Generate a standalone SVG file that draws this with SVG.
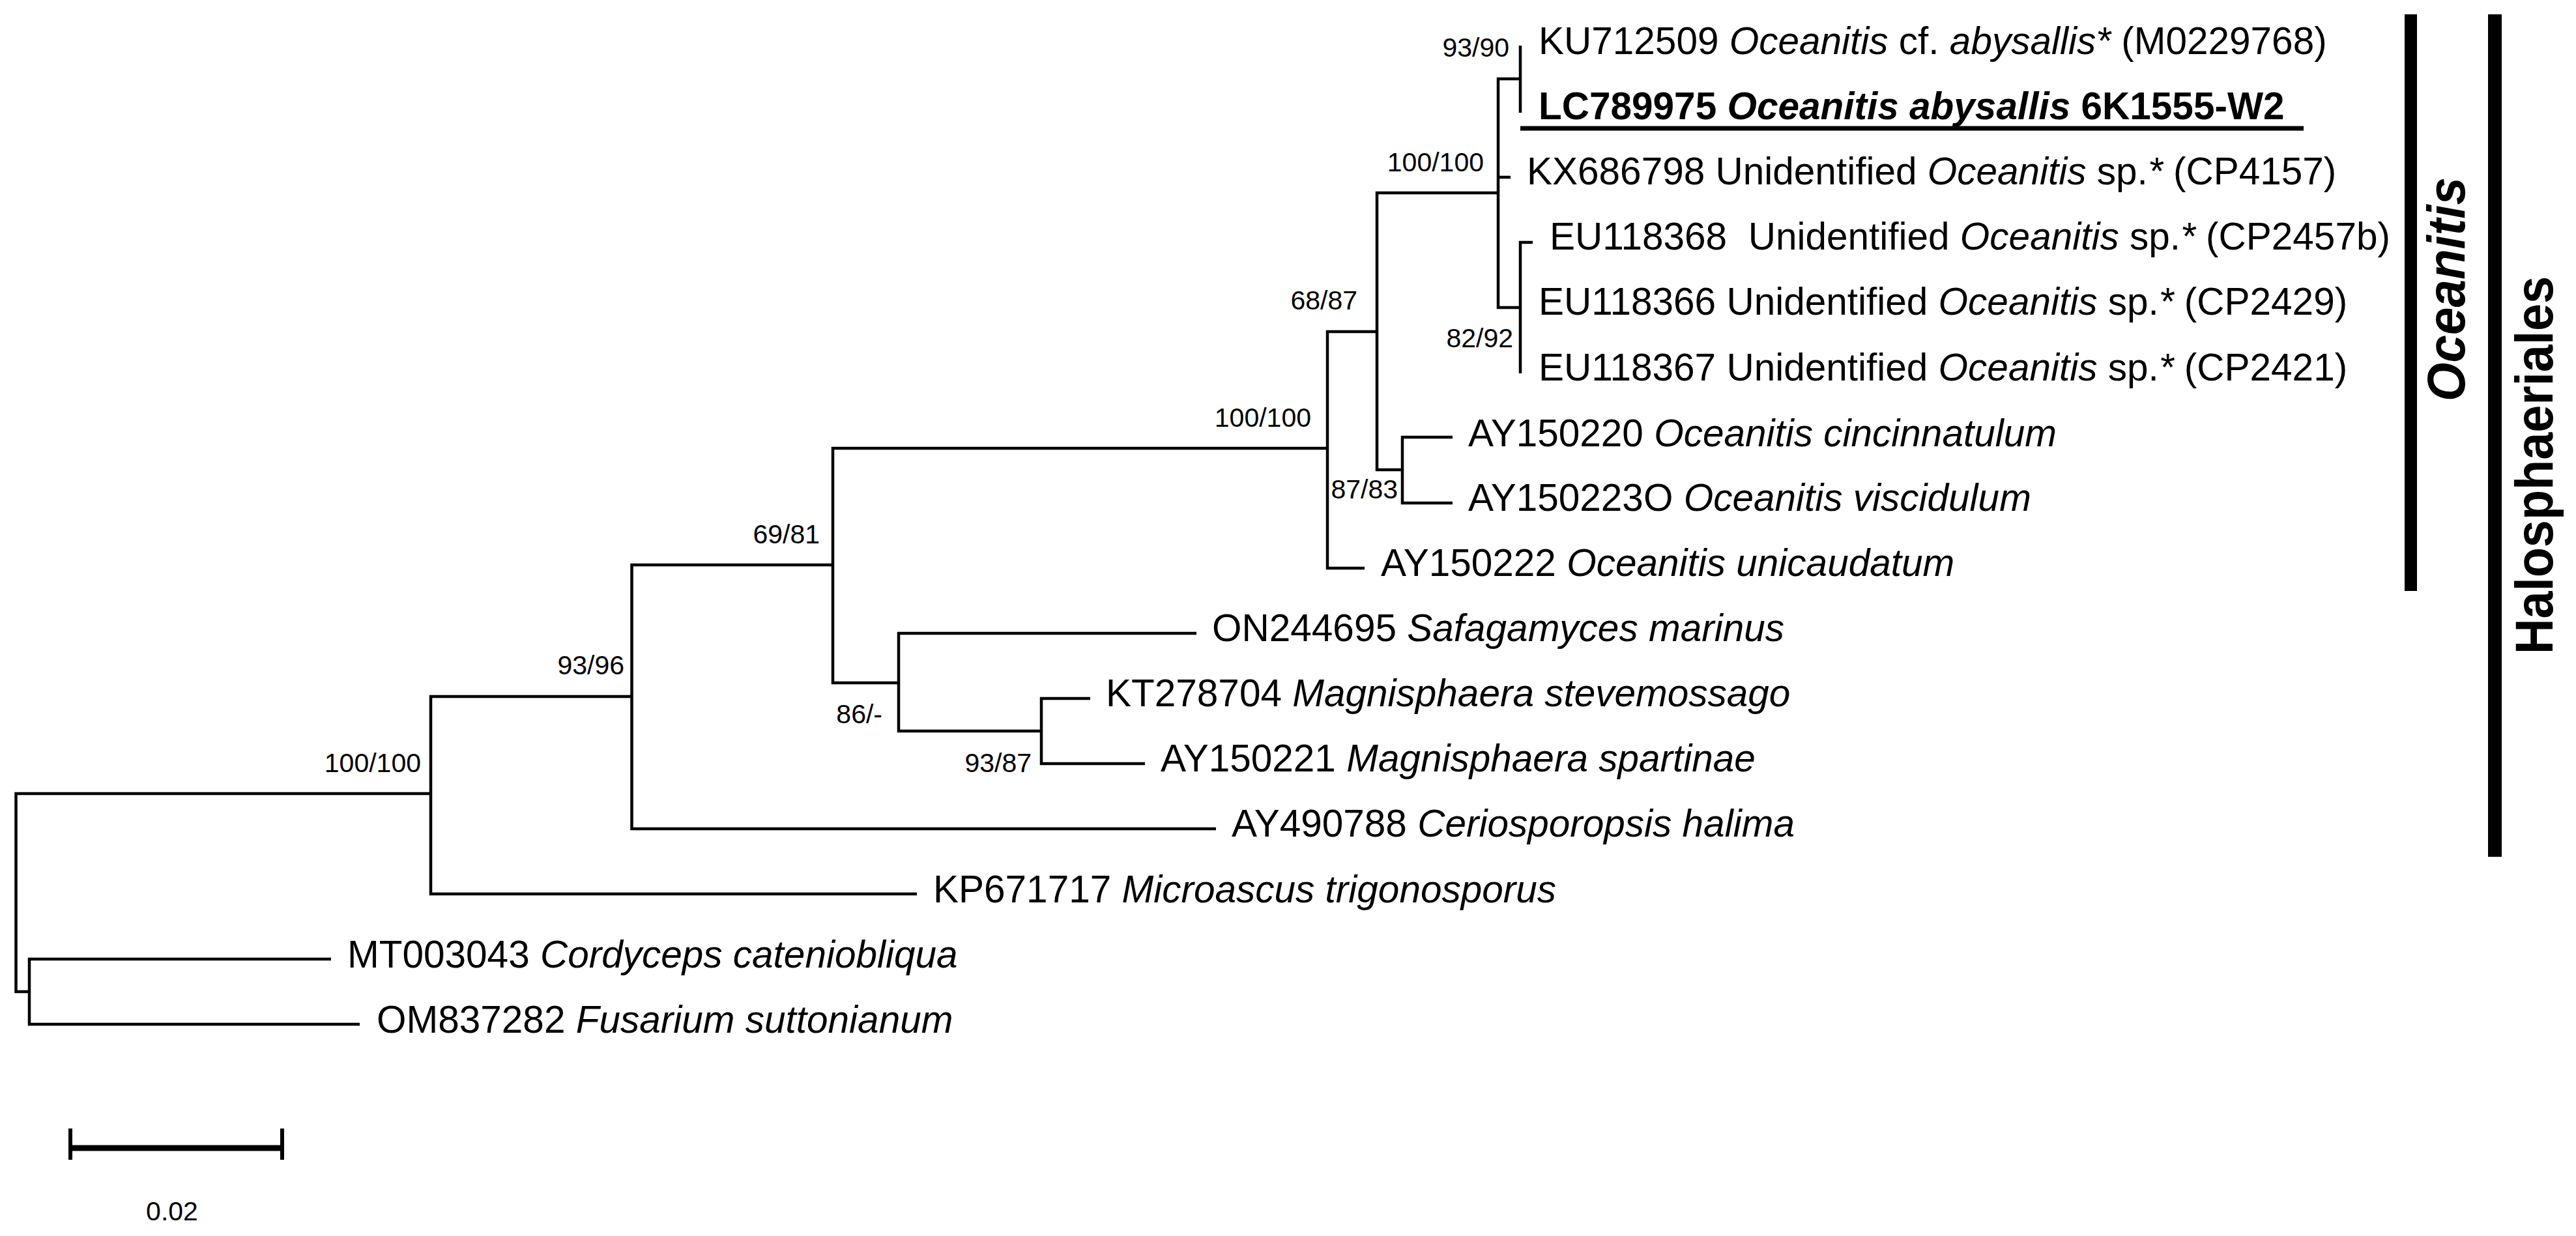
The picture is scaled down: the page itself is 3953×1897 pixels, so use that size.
<svg xmlns="http://www.w3.org/2000/svg" width="3953" height="1897" viewBox="0 0 3953 1897">
<style>
.br{fill:none;stroke:#000;stroke-width:4.5;stroke-linejoin:miter}
.tx{font-family:"Liberation Sans",Arial,Helvetica,sans-serif;font-size:58.5px;fill:#000}
.sp{font-family:"Liberation Sans",Arial,Helvetica,sans-serif;font-size:41px;fill:#000;text-anchor:end}
.it{font-style:italic}
.bd{font-weight:bold}
</style>
<rect width="3953" height="1897" fill="#fff"/>
<g id="connectors">
<path class="br" d="M661,1218 H24.5 V1522 H45"/>
<path class="br" d="M969.5,1069 H661 V1372 H1407"/>
<path class="br" d="M1278,867 H969.5 V1272 H1866"/>
<path class="br" d="M2037,688 H1278 V1048 H1379"/>
<path class="br" d="M2113,509 H2037 V872 H2094"/>
<path class="br" d="M2299,296 H2113 V721 H2152"/>
<path class="br" d="M2333,121 H2299 V472 H2333"/>
<path class="br" d="M2299,272 H2318"/>
<path class="br" d="M2333,70 V173"/>
<path class="br" d="M2352,372 H2333 V573"/>
<path class="br" d="M2229,671 H2152 V772 H2229"/>
<path class="br" d="M1836,972 H1379 V1122 H1598"/>
<path class="br" d="M1673,1072 H1598 V1172 H1757"/>
<path class="br" d="M508,1472 H45 V1572 H552"/>
</g>
<g id="taxa">
<g id="t-KU712509"><text class="tx" x="2361" y="83">KU712509 <tspan class="it">Oceanitis</tspan> cf. <tspan class="it">abysallis*</tspan> (M0229768)</text></g>
<g id="t-LC789975"><text class="tx bd" x="2361" y="183">LC789975 <tspan class="it">Oceanitis abysallis</tspan> 6K1555-W2</text><line x1="2333" y1="197" x2="3535" y2="197" stroke="#000" stroke-width="7"/></g>
<g id="t-KX686798"><text class="tx" x="2343" y="283">KX686798 Unidentified <tspan class="it">Oceanitis</tspan> sp.<tspan class="it">*</tspan> (CP4157)</text></g>
<g id="t-EU118368"><text class="tx" x="2378" y="383" xml:space="preserve">EU118368  Unidentified <tspan class="it">Oceanitis</tspan> sp.<tspan class="it">*</tspan> (CP2457b)</text></g>
<g id="t-EU118366"><text class="tx" x="2361" y="483">EU118366 Unidentified <tspan class="it">Oceanitis</tspan> sp.<tspan class="it">*</tspan> (CP2429)</text></g>
<g id="t-EU118367"><text class="tx" x="2361" y="584">EU118367 Unidentified <tspan class="it">Oceanitis</tspan> sp.<tspan class="it">*</tspan> (CP2421)</text></g>
<g id="t-AY150220"><text class="tx" x="2253" y="685">AY150220 <tspan class="it">Oceanitis cincinnatulum</tspan></text></g>
<g id="t-AY150223O"><text class="tx" x="2253" y="784">AY150223O <tspan class="it">Oceanitis viscidulum</tspan></text></g>
<g id="t-AY150222"><text class="tx" x="2119" y="884">AY150222 <tspan class="it">Oceanitis unicaudatum</tspan></text></g>
<g id="t-ON244695"><text class="tx" x="1860" y="984">ON244695 <tspan class="it">Safagamyces marinus</tspan></text></g>
<g id="t-KT278704"><text class="tx" x="1697" y="1084">KT278704 <tspan class="it">Magnisphaera stevemossago</tspan></text></g>
<g id="t-AY150221"><text class="tx" x="1781" y="1184">AY150221 <tspan class="it">Magnisphaera spartinae</tspan></text></g>
<g id="t-AY490788"><text class="tx" x="1890" y="1284">AY490788 <tspan class="it">Ceriosporopsis halima</tspan></text></g>
<g id="t-KP671717"><text class="tx" x="1432" y="1385">KP671717 <tspan class="it">Microascus trigonosporus</tspan></text></g>
<g id="t-MT003043"><text class="tx" x="533" y="1485">MT003043 <tspan class="it">Cordyceps cateniobliqua</tspan></text></g>
<g id="t-OM837282"><text class="tx" x="578" y="1585">OM837282 <tspan class="it">Fusarium suttonianum</tspan></text></g>
</g>
<g id="support">
<text class="sp" x="2316" y="87">93/90</text>
<text class="sp" x="2277" y="263">100/100</text>
<text class="sp" x="2083" y="475">68/87</text>
<text class="sp" x="2322" y="533">82/92</text>
<text class="sp" x="2012" y="655">100/100</text>
<text class="sp" x="2145" y="765">87/83</text>
<text class="sp" x="1258" y="834">69/81</text>
<text class="sp" x="958" y="1035">93/96</text>
<text class="sp" x="646" y="1185">100/100</text>
<text class="sp" x="1354" y="1110">86/-</text>
<text class="sp" x="1583" y="1185">93/87</text>
</g>
<g id="clade-Oceanitis">
<rect x="3690" y="22" width="19" height="885" fill="#000"/>
<text transform="translate(3782,444) rotate(-90)" text-anchor="middle" font-family="'Liberation Sans',Arial,sans-serif" font-size="82" font-style="italic" font-weight="bold" textLength="344" lengthAdjust="spacingAndGlyphs">Oceanitis</text>
</g>
<g id="clade-Halosphaeriales">
<rect x="3818" y="22" width="21" height="1293" fill="#000"/>
<text transform="translate(3917,714) rotate(-90)" text-anchor="middle" font-family="'Liberation Sans',Arial,sans-serif" font-size="82" font-weight="bold" textLength="580" lengthAdjust="spacingAndGlyphs">Halosphaeriales</text>
</g>
<g id="scalebar">
<line x1="108" y1="1762" x2="433" y2="1762" stroke="#000" stroke-width="9"/>
<line x1="108" y1="1732" x2="108" y2="1780" stroke="#000" stroke-width="6"/>
<line x1="433" y1="1732" x2="433" y2="1780" stroke="#000" stroke-width="6"/>
<text x="264" y="1873" text-anchor="middle" font-family="'Liberation Sans',Arial,sans-serif" font-size="41">0.02</text>
</g>
</svg>
